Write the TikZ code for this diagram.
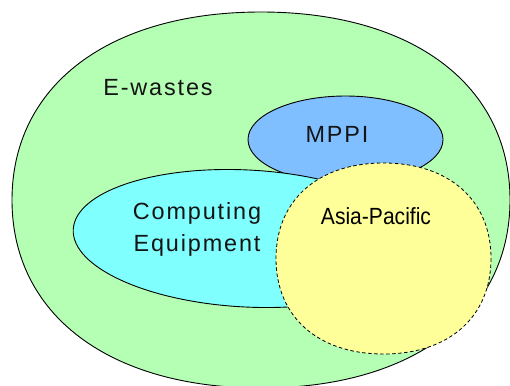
\documentclass[tikz,border=0pt]{standalone}
\usepackage{fontspec}
\setmainfont{Liberation Sans}
\newfontfamily\spacedfont[LetterSpace=8]{Liberation Sans}
\newfontfamily\narrowfont[FakeStretch=0.9]{Liberation Sans}
\usetikzlibrary{shapes.geometric}
\definecolor{ewgreen}{RGB}{180,255,180}
\definecolor{mpblue}{RGB}{128,191,255}
\definecolor{cpcyan}{RGB}{128,255,255}
\definecolor{apyellow}{RGB}{255,255,153}
\definecolor{txtgray}{RGB}{20,20,20}
\newcommand\fatoval[3]{% center, rx, ry ; kappa 0.61
  \begin{scope}[shift={#1}, xscale=#2, yscale=#3]
  \path[shapestyle] (1,0) .. controls (1,0.61) and (0.61,1) .. (0,1)
     .. controls (-0.61,1) and (-1,0.61) .. (-1,0)
     .. controls (-1,-0.61) and (-0.61,-1) .. (0,-1)
     .. controls (0.61,-1) and (1,-0.61) .. (1,0) -- cycle;
  \end{scope}}
\begin{document}
\begin{tikzpicture}[x=1bp,y=-1bp,
  outline/.style={draw=black, line width=0.9bp},
  spaced/.style={font=\spacedfont\fontsize{23.5}{32}\selectfont, text=txtgray, inner sep=0pt},
  narrow/.style={font=\narrowfont\fontsize{23.5}{28}\selectfont, text=black, inner sep=0pt}]
\useasboundingbox (0,0) rectangle (510,385);
\fill[white] (0,0) rectangle (510,385);
% E-wastes outer region
\tikzset{shapestyle/.style={outline, fill=ewgreen}}
\fatoval{(261,200)}{249}{188}
% MPPI
\node[ellipse, outline, fill=mpblue, minimum width=195bp, minimum height=87bp, inner sep=0pt] (mppi) at (345.5,139.5) {};
% Computing Equipment
\node[ellipse, outline, fill=cpcyan, minimum width=348bp, minimum height=137bp, inner sep=0pt, rotate=-3] (comp) at (247,238.5) {};
% Asia-Pacific
\tikzset{shapestyle/.style={draw=black, line width=0.8bp, dash pattern=on 3.5bp off 2.5bp, fill=apyellow}}
\fatoval{(383.5,258.5)}{107.5}{95.5}
% labels
\node[spaced] (ew) at (158,88) {E-wastes};
\node[spaced] (mp) at (337,134.5) {MPPI};
\node[spaced, align=center] (ce) at (197,229.5) {Computing\\Equipment};
\node[narrow] (ap) at (376,216) {Asia-Pacific};
\end{tikzpicture}
\end{document}
